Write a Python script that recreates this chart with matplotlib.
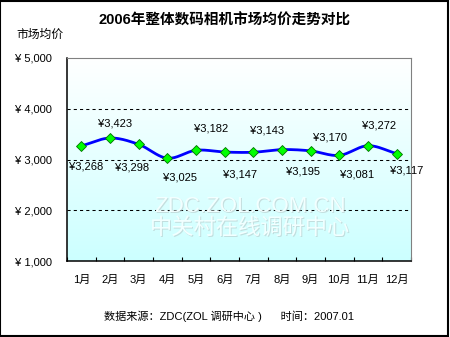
import numpy as np
import matplotlib
matplotlib.use('Agg')
import matplotlib.pyplot as plt
import matplotlib.patches as patches

plt.rcParams['font.family'] = ['Liberation Sans', 'Noto Sans CJK SC', 'DejaVu Sans']

months = ['1月', '2月', '3月', '4月', '5月', '6月', '7月', '8月', '9月', '10月', '11月', '12月']
prices = [3268, 3423, 3298, 3025, 3182, 3147, 3143, 3195, 3170, 3081, 3272, 3117]
y_ticks = [1000, 2000, 3000, 4000, 5000]

# label offsets from each marker, in pixels (dx right, dy down)
label_offsets = [(5, 21), (5, -15), (-7, 23), (13, 19), (15, -22), (15, 22),
                 (14, -22), (21, 22), (19, -13), (18, 19), (11, -20), (10, 17)]


def catmull_rom(x, y, n=20):
    # smoothed line through the points, like a spreadsheet "smooth line"
    px = np.concatenate([[2 * x[0] - x[1]], x, [2 * x[-1] - x[-2]]])
    py = np.concatenate([[2 * y[0] - y[1]], y, [2 * y[-1] - y[-2]]])
    xs, ys = [], []
    t = np.linspace(0, 1, n, endpoint=False)
    for i in range(1, len(px) - 2):
        for arr, out in ((px, xs), (py, ys)):
            p0, p1, p2, p3 = arr[i - 1], arr[i], arr[i + 1], arr[i + 2]
            out.extend(0.5 * ((2 * p1) + (-p0 + p2) * t
                              + (2 * p0 - 5 * p1 + 4 * p2 - p3) * t ** 2
                              + (-p0 + 3 * p1 - 3 * p2 + p3) * t ** 3))
    xs.append(x[-1])
    ys.append(y[-1])
    return np.array(xs), np.array(ys)


fig = plt.figure(figsize=(4.5, 3.37), dpi=100)
ax = fig.add_axes([0.149, 0.2255, 0.764, 0.6024])

x = np.arange(len(months), dtype=float)
ax.set_xlim(-0.5, len(months) - 0.5)
ax.set_ylim(y_ticks[0], y_ticks[-1])

# background gradient white -> light cyan
grad = np.linspace(0, 1, 256).reshape(-1, 1)
top = np.array([1.0, 1.0, 1.0])
bottom = np.array([0.8, 1.0, 1.0])
img = top + (bottom - top) * grad[..., None]
ax.imshow(img, extent=[-0.5, len(months) - 0.5, y_ticks[0], y_ticks[-1]],
          aspect='auto', zorder=0, origin='upper')

# dashed gridlines
for v in y_ticks[1:-1]:
    ax.axhline(v, color='black', lw=0.75, ls=(0, (3, 3)), zorder=1)

# embossed watermark: grey shadow under a near-white copy
wm_x = 5.88
for txt, yy in (('ZDC.ZOL.COM.CN', 2080), ('中关村在线调研中心', 1650)):
    ax.text(wm_x + 0.035, yy - 20, txt, fontsize=16, color='#b4c4c4',
            ha='center', va='center', zorder=1.5, alpha=0.55)
    ax.text(wm_x, yy, txt, fontsize=16, color='#f2ffff',
            ha='center', va='center', zorder=1.6)

sx, sy = catmull_rom(x, np.array(prices, dtype=float))
ax.plot(sx, sy, color='#0000ff', lw=2.0, zorder=3, solid_capstyle='round')
ax.plot(x, prices, ls='none', marker='D', ms=5, mfc='#00ff00', mec='#007000',
        mew=0.6, zorder=4)

for xi, p, (dx, dy) in zip(x, prices, label_offsets):
    ax.annotate('¥{:,}'.format(p), xy=(xi, p), xytext=(dx * 0.72, -dy * 0.72),
                textcoords='offset points', ha='center', va='center',
                fontsize=8, color='black', zorder=5)

# axes frame
for side in ('top', 'right'):
    ax.spines[side].set_color('#808080')
    ax.spines[side].set_linewidth(0.8)
for side in ('left', 'bottom'):
    ax.spines[side].set_color('black')
    ax.spines[side].set_linewidth(1.1)

ax.set_xticks(x)
ax.set_xticklabels(months, fontsize=8)
ax.set_xticks(np.arange(-0.5, len(months)), minor=True)
ax.tick_params(axis='x', which='major', length=0, pad=10)
ax.tick_params(axis='x', which='minor', direction='in', length=3, width=0.8)

ax.set_yticks(y_ticks)
ax.set_yticklabels(['¥ {:,}'.format(v) for v in y_ticks], fontsize=8)
ax.tick_params(axis='y', length=0, pad=11)

fig.text(0.5, 0.938, '2006年整体数码相机市场均价走势对比', ha='center', va='center',
         fontsize=10.5, fontweight='bold')
fig.text(0.036, 0.896, '市场均价', ha='left', va='center', fontsize=8.5)
fig.text(0.509, 0.062, '数据来源：ZDC(ZOL 调研中心 )      时间：2007.01',
         ha='center', va='center', fontsize=8)

# outer border
fig.patches.append(patches.Rectangle((0.001, 0.003), 0.995, 0.995,
                                     transform=fig.transFigure, fill=False,
                                     edgecolor='black', lw=1.5))

fig.savefig('out.png', dpi=100)
